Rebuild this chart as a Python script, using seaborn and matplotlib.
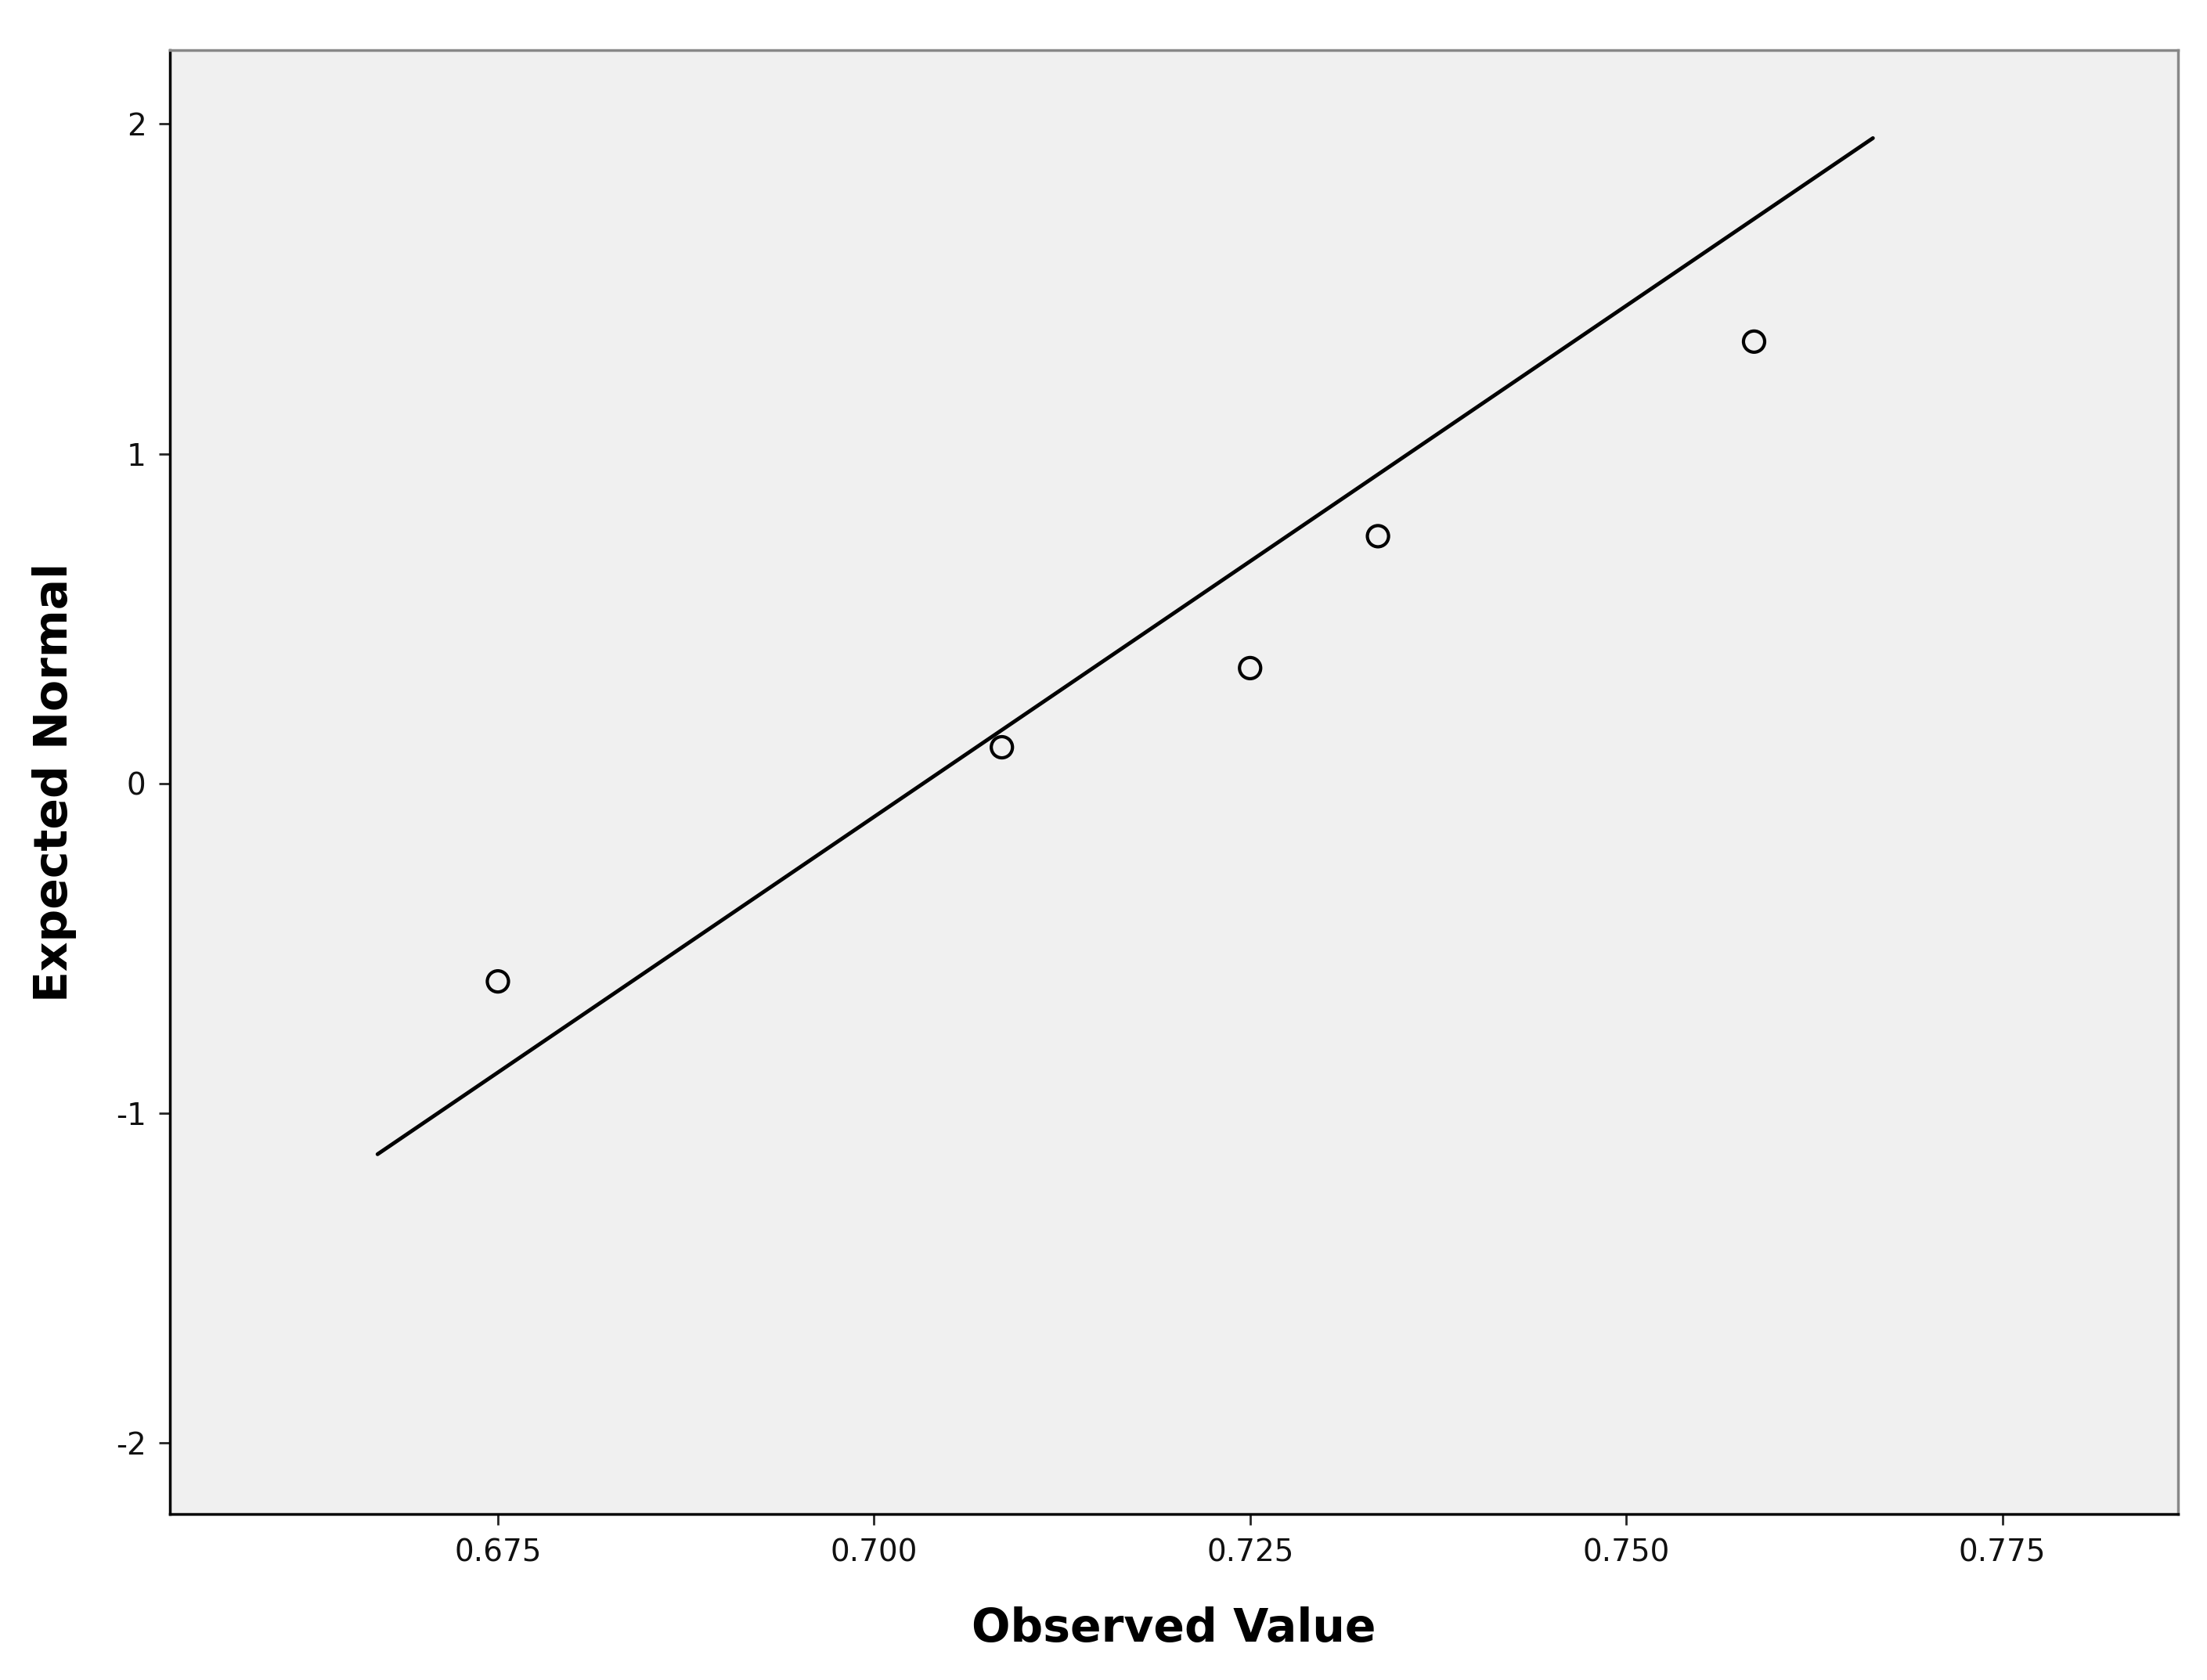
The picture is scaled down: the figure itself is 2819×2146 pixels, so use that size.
import matplotlib
matplotlib.use("Agg")
import matplotlib.pyplot as plt
import seaborn as sns
import pandas as pd

observed = [0.675, 0.7085, 0.725, 0.7335, 0.7585]
expected = [-0.60, 0.11, 0.35, 0.75, 1.34]
line_x = [0.667, 0.7664]
line_y = [-1.124, 1.957]
xticks = [0.675, 0.700, 0.725, 0.750, 0.775]
yticks = [-2, -1, 0, 1, 2]

sns.set_style("white")
plt.rcParams['font.family'] = ['DejaVu Sans']
fig = plt.figure(figsize=(28.19, 21.46), dpi=100)
ax = fig.add_axes([0.077, 0.099, 0.910, 0.871])
ax.set_facecolor("#f0f0f0")
df = pd.DataFrame({"x": observed, "y": expected})
sns.scatterplot(data=df, x="x", y="y", ax=ax, s=380, facecolor="none",
                edgecolor="black", linewidth=3, zorder=3)
sns.lineplot(x=line_x, y=line_y, ax=ax, color="black", linewidth=3.5)
ax.set_xlim(0.6532, 0.7867)
ax.set_ylim(-2.214, 2.223)
ax.set_xticks(xticks)
ax.set_xticklabels([f"{v:.3f}" for v in xticks])
ax.set_yticks(yticks)
ax.set_yticklabels([str(v) for v in yticks])
ax.tick_params(axis="both", labelsize=28, length=10, width=2, direction="out",
               bottom=True, left=True, pad=12, labelcolor="#111111")
for s in ax.spines.values():
    s.set_linewidth(2.5)
    s.set_color("black")
ax.spines["top"].set_color("#888888")
ax.spines["right"].set_color("#888888")
ax.set_xlabel("Observed Value", fontsize=42, fontweight="bold", labelpad=36, color="black")
ax.set_ylabel("Expected Normal", fontsize=42, fontweight="bold", labelpad=36, color="black")
fig.savefig("out.png", dpi=100)
